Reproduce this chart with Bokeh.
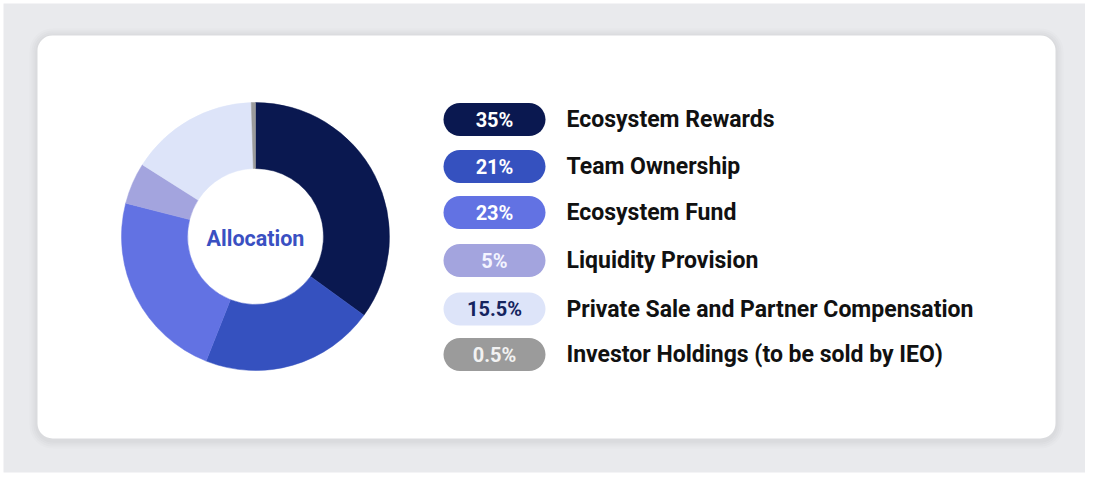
import numpy as np
from bokeh.plotting import figure
from bokeh.models import Range1d, ColumnDataSource
from bokeh.core.properties import value
from bokeh.embed import file_html
from bokeh.resources import INLINE

# ---- data ----
categories = ["Ecosystem Rewards", "Team Ownership", "Ecosystem Fund",
              "Liquidity Provision", "Private Sale and Partner Compensation",
              "Investor Holdings (to be sold by IEO)"]
shares = [35, 21, 23, 5, 15.5, 0.5]
pct_labels = ["35%", "21%", "23%", "5%", "15.5%", "0.5%"]
colors = ["#0a1850", "#3551bf", "#6272e3", "#a3a4de", "#dde4f9", "#9b9b9b"]
pill_text_colors = ["#ffffff", "#ffffff", "#ffffff", "#f4f4ff", "#15245f", "#f2f2f2"]
center_label = "Allocation"

IMG_H = 481
def Y(yi):
    return IMG_H - yi

W, H = 1085, 473
p = figure(width=W, height=H, output_backend="svg", toolbar_location=None,
           x_range=Range1d(0, W), y_range=Range1d(Y(H), Y(0)),
           min_border=0, tools="")
p.axis.visible = False
p.grid.visible = False
p.outline_line_color = None
p.background_fill_color = "#ffffff"
p.border_fill_color = "#ffffff"

# page background
p.quad(left=[3], right=[1088], top=[Y(3)], bottom=[Y(472)],
       fill_color="#e9eaed", line_color=None)

# card shadow + card
card = dict(l=37, r=1055, t=35, b=438)
for i, a in enumerate([0.025, 0.03, 0.035, 0.04]):
    g = 8 - 2 * i
    p.quad(left=[card["l"] - g], right=[card["r"] + g], top=[Y(card["t"] - g + 1)],
           bottom=[Y(card["b"] + g + 2)], fill_color="#7a7f8c", fill_alpha=a,
           line_color=None, border_radius=int(15 + g))
p.quad(left=[card["l"]], right=[card["r"]], top=[Y(card["t"])], bottom=[Y(card["b"])],
       fill_color="#ffffff", line_color=None, border_radius=15)

# donut
cx, cy = 255, Y(236)
frac = np.array(shares, dtype=float) / sum(shares)
cum = np.concatenate([[0], np.cumsum(frac)])
start = np.pi / 2 - 2 * np.pi * cum[:-1]
end = np.pi / 2 - 2 * np.pi * cum[1:]
src = ColumnDataSource(dict(start=start, end=end, color=colors, cat=categories))
p.annular_wedge(x=cx, y=cy, inner_radius=68, outer_radius=134,
                start_angle="start", end_angle="end", direction="clock",
                fill_color="color", line_color="color", line_width=0.5, source=src)
p.text(x=[cx], y=[cy - 2], text=[center_label], text_font=value("Roboto"),
       text_font_style="bold", text_font_size="21.5px", text_color="#3a50c2",
       text_align="center", text_baseline="middle")

# legend pills
ys = [119, 166, 212, 260, 308.5, 354]
pl, pr, ph = 443, 545, 33
lsrc = ColumnDataSource(dict(
    left=[pl] * 6, right=[pr] * 6,
    top=[Y(y - ph / 2) for y in ys], bottom=[Y(y + ph / 2) for y in ys],
    color=colors, tcolor=pill_text_colors, pct=pct_labels, cat=categories,
    ty=[Y(y) for y in ys], tx=[(pl + pr) / 2] * 6, lx=[566] * 6))
p.quad(left="left", right="right", top="top", bottom="bottom", fill_color="color",
       line_color=None, border_radius=17, source=lsrc)
p.text(x="tx", y="ty", text="pct", text_color="tcolor", text_font=value("Roboto"),
       text_font_style="bold", text_font_size="20px", text_align="center",
       text_baseline="middle", source=lsrc)
p.text(x="lx", y="ty", text="cat", text_color="#111111", text_font=value("Roboto"),
       text_font_style="bold", text_font_size="23px", text_align="left",
       text_baseline="middle", source=lsrc)

open("out.html", "w").write(file_html(p, INLINE))
